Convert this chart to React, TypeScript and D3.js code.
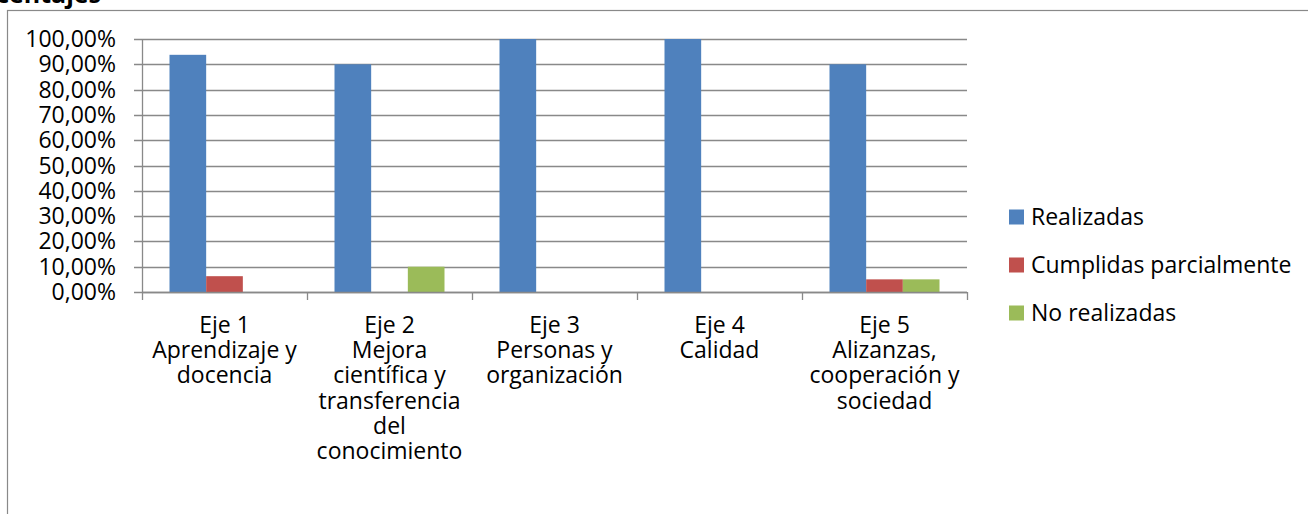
import React from "react";
import * as d3 from "d3";

const categories = ["Eje 1", "Eje 2", "Eje 3", "Eje 4", "Eje 5"];
const categoryLines = [
  ["Eje 1", "Aprendizaje y", "docencia"],
  ["Eje 2", "Mejora", "científica y", "transferencia", "del", "conocimiento"],
  ["Eje 3", "Personas y", "organización"],
  ["Eje 4", "Calidad"],
  ["Eje 5", "Alizanzas,", "cooperación y", "sociedad"],
];
const seriesNames = ["Realizadas", "Cumplidas parcialmente", "No realizadas"];
const realizadas = [0.9375, 0.9, 1.0, 1.0, 0.9];
const cumplidasParcialmente = [0.0625, 0, 0, 0, 0.05];
const noRealizadas = [0, 0.1, 0, 0, 0.05];
const seriesValues = [realizadas, cumplidasParcialmente, noRealizadas];
const seriesColors = ["#4F81BD", "#C0504D", "#9BBB59"];
const yTicks = [0, 0.1, 0.2, 0.3, 0.4, 0.5, 0.6, 0.7, 0.8, 0.9, 1.0];
const title = "Porcentajes";

const W = 1308;
const H = 514;
const FONT = "'Open Sans', sans-serif";
const FS = 23;
const GRID = "#898989";

export default function App() {
  const left = 142;
  const right = 967;
  const top = 39;
  const bottom = 292;

  const x0 = d3.scaleBand<string>().domain(categories).range([left, right]).padding(0);
  const x1 = d3
    .scaleBand<string>()
    .domain(seriesNames)
    .range([0, x0.bandwidth()])
    .paddingInner(0)
    .paddingOuter(0.75);
  const y = d3.scaleLinear().domain([0, 1]).range([bottom, top]);
  const fmt = (v: number) => (v * 100).toFixed(2).replace(".", ",") + "%";

  const boundaries = categories.map((c) => x0(c) as number).concat([right]);

  return (
    <svg
      width={W}
      height={H}
      style={{ position: "absolute", left: 0, top: 0, display: "block", background: "#fff" }}
      fontFamily={FONT}
    >
      <rect x={0} y={0} width={W} height={H} fill="#fff" />
      <text x={101} y={3} textAnchor="end" fontWeight="bold" fontSize={25} fill="#000">
        {title}
      </text>
      <rect x={7.5} y={10.5} width={W + 10} height={H + 10} fill="none" stroke={GRID} strokeWidth={1.2} />

      {/* gridlines + y ticks */}
      {yTicks.map((t) => (
        <g key={t}>
          <line x1={134} x2={right} y1={Math.round(y(t)) + 0.5} y2={Math.round(y(t)) + 0.5} stroke={GRID} strokeWidth={1.3} />
          <text x={116} y={y(t)} dy="0.35em" textAnchor="end" fontSize={FS} fill="#000">
            {fmt(t)}
          </text>
        </g>
      ))}

      {/* bars */}
      {categories.map((c, ci) => (
        <g key={c} transform={`translate(${x0(c)},0)`}>
          {seriesNames.map((s, si) => {
            const v = seriesValues[si][ci];
            if (!v) return null;
            return (
              <rect
                key={s}
                x={x1(s)}
                y={y(v)}
                width={x1.bandwidth()}
                height={y(0) - y(v)}
                fill={seriesColors[si]}
              />
            );
          })}
        </g>
      ))}

      {/* axes */}
      <line x1={left + 0.5} x2={left + 0.5} y1={top} y2={bottom} stroke={GRID} strokeWidth={1.3} />
      <line x1={left} x2={right} y1={Math.round(y(0)) + 0.5} y2={Math.round(y(0)) + 0.5} stroke={GRID} strokeWidth={1.3} />
      {boundaries.map((b, i) => (
        <line key={i} x1={b + 0.5} x2={b + 0.5} y1={bottom} y2={300} stroke={GRID} strokeWidth={1.3} />
      ))}

      {/* category labels */}
      {categories.map((c, ci) => (
        <text
          key={c}
          x={(x0(c) as number) + x0.bandwidth() / 2}
          y={333}
          textAnchor="middle"
          fontSize={FS}
          fill="#000"
        >
          {categoryLines[ci].map((ln, li) => (
            <tspan key={li} x={(x0(c) as number) + x0.bandwidth() / 2} dy={li === 0 ? 0 : 25.2}>
              {ln}
            </tspan>
          ))}
        </text>
      ))}

      {/* legend */}
      {seriesNames.map((s, si) => {
        const cy = 217 + si * 48;
        return (
          <g key={s}>
            <rect x={1009} y={cy - 7.5} width={15} height={15} fill={seriesColors[si]} />
            <text x={1031} y={cy} dy="0.35em" fontSize={FS} fill="#000">
              {s}
            </text>
          </g>
        );
      })}
    </svg>
  );
}
